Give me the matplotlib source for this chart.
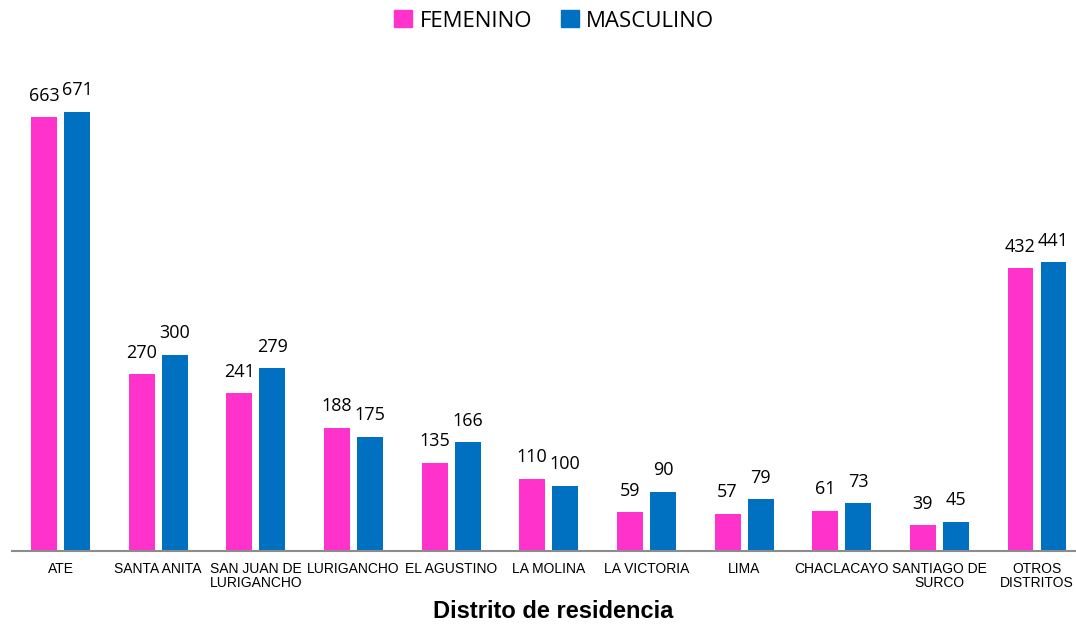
import numpy as np
import matplotlib.pyplot as plt
from matplotlib.patches import Patch

distritos = ['ATE', 'SANTA ANITA', 'SAN JUAN DE\nLURIGANCHO', 'LURIGANCHO', 'EL AGUSTINO',
             'LA MOLINA', 'LA VICTORIA', 'LIMA', 'CHACLACAYO', 'SANTIAGO DE\nSURCO',
             'OTROS\nDISTRITOS']
femenino = [663, 270, 241, 188, 135, 110, 59, 57, 61, 39, 432]
masculino = [671, 300, 279, 175, 166, 100, 90, 79, 73, 45, 441]

PINK = '#FF33CC'
BLUE = '#0070C0'

fig = plt.figure(figsize=(10.76, 6.24), dpi=100)
ax = fig.add_axes([0.0, 1 - 551 / 624, 1.0, 458 / 624])

x = np.arange(len(distritos))
w = 0.266
off = 0.169
bf = ax.bar(x - off, femenino, w, color=PINK)
bm = ax.bar(x + off, masculino, w, color=BLUE)

# value labels sit a fixed distance above each bar
for bars, vals in ((bf, femenino), (bm, masculino)):
    for b, v in zip(bars, vals):
        ax.annotate(str(v), (b.get_x() + b.get_width() / 2, v), xytext=(0, 12),
                    textcoords='offset points', ha='center', va='baseline',
                    fontsize=13, family='Open Sans', color='black')

px = 97.65  # pixels per category
ax.set_xlim(-60.5 / px, (1076 - 60.5) / px)
ax.set_ylim(0, 700)
ax.set_yticks([])
ax.set_xticks(x)
ax.set_xticklabels(distritos, fontsize=10, family='Liberation Sans', linespacing=1.0)
ax.tick_params(axis='x', length=0, pad=8)
for s in ('top', 'right', 'left'):
    ax.spines[s].set_visible(False)
ax.spines['bottom'].set_color('#8C8C8C')
ax.spines['bottom'].set_linewidth(1.5)
ax.spines['bottom'].set_bounds(-0.5, (1076 - 60.5) / px)

fig.text(0.514, 1 - 612 / 624, 'Distrito de residencia', ha='center', va='center',
         fontsize=17, fontweight='bold', family='Liberation Sans')

handles = [Patch(color=PINK, label='FEMENINO'), Patch(color=BLUE, label='MASCULINO')]
fig.legend(handles=handles, loc='center', bbox_to_anchor=(0.515, 1 - 21 / 624), ncol=2,
           frameon=False, prop={'family': 'Open Sans', 'size': 16},
           handlelength=0.8, handleheight=0.8, handletextpad=0.35, columnspacing=1.3)

fig.savefig('out.png', dpi=100)
